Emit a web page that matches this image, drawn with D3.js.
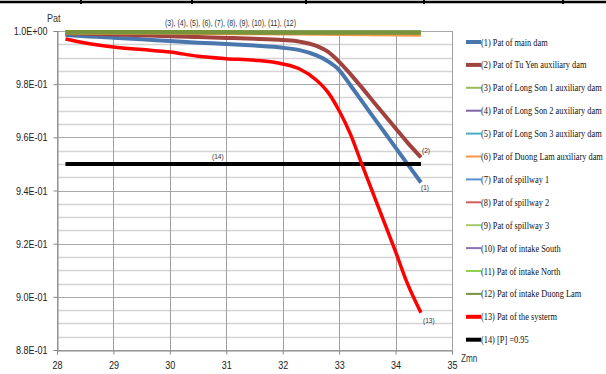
<!DOCTYPE html>
<html><head><meta charset="utf-8">
<script src="https://cdn.jsdelivr.net/npm/d3@7"></script>
<style>
html,body{margin:0;padding:0;background:#fff;}
svg{display:block;}
</style></head>
<body>
<svg id="c" width="606" height="374"></svg>
<script>
// ---- data ----
const zmnMain = [28.15, 28.5, 29, 29.5, 30, 30.5, 31, 31.5, 32, 32.3, 32.6, 32.8, 33.0, 33.2, 33.4, 33.6, 33.8, 34.0, 34.2, 34.45];
const patMainDam   = [0.9985, 0.9980, 0.9975, 0.9969, 0.9962, 0.9956, 0.9951, 0.9945, 0.9937, 0.9928, 0.9908, 0.9886, 0.9853, 0.9796, 0.9737, 0.9678, 0.9620, 0.9561, 0.9503, 0.9430];
const patTuYen     = [0.9992, 0.9990, 0.9987, 0.9984, 0.9980, 0.9977, 0.9974, 0.9971, 0.9966, 0.9960, 0.9944, 0.9922, 0.9884, 0.9838, 0.9788, 0.9736, 0.9685, 0.9634, 0.9583, 0.9525];
const patSystem    = [0.9970, 0.9955, 0.9940, 0.9930, 0.9921, 0.9905, 0.9896, 0.9890, 0.9876, 0.9857, 0.9815, 0.9770, 0.9700, 0.9612, 0.9500, 0.9390, 0.9280, 0.9170, 0.9055, 0.8940];
const zmnFlat = [28.15, 29, 30, 31, 32, 33, 34, 34.45];
const patLongSon1  = [0.9996, 0.9996, 0.9996, 0.9996, 0.9995, 0.9995, 0.9994, 0.9994];
const patLongSon2  = [0.9996, 0.9996, 0.9996, 0.9996, 0.9995, 0.9995, 0.9994, 0.9994];
const patLongSon3  = [0.9996, 0.9996, 0.9996, 0.9996, 0.9995, 0.9995, 0.9994, 0.9994];
const patDuongLamAux = [0.9994, 0.9993, 0.9993, 0.9992, 0.9991, 0.9989, 0.9987, 0.9986];
const patSpillway1 = [0.9997, 0.9997, 0.9997, 0.9997, 0.9996, 0.9996, 0.9996, 0.9996];
const patSpillway2 = [0.9997, 0.9997, 0.9997, 0.9997, 0.9996, 0.9996, 0.9996, 0.9996];
const patSpillway3 = [0.9997, 0.9997, 0.9997, 0.9997, 0.9996, 0.9996, 0.9996, 0.9996];
const patIntakeSouth = [0.9996, 0.9996, 0.9996, 0.9996, 0.9996, 0.9995, 0.9995, 0.9995];
const patIntakeNorth = [0.9996, 0.9996, 0.9996, 0.9996, 0.9996, 0.9995, 0.9995, 0.9995];
const patIntakeDuongLam = [0.9995, 0.9995, 0.9995, 0.9995, 0.9994, 0.9994, 0.9994, 0.9994];
const zmnLimit = [28.15, 34.45];
const pLimit = [0.95, 0.95];

const seriesNames = [
  "(1) Pat of main dam", "(2) Pat of Tu Yen auxiliary dam", "(3) Pat of Long Son 1 auxiliary dam",
  "(4) Pat of Long Son 2 auxiliary dam", "(5) Pat of Long Son 3 auxiliary dam", "(6) Pat of Duong Lam auxiliary dam",
  "(7) Pat of spillway 1", "(8) Pat of spillway 2", "(9) Pat of spillway 3", "(10) Pat of intake South",
  "(11) Pat of intake North", "(12) Pat of intake Duong Lam", "(13) Pat of the systerm", "(14) [P] =0.95"
];
const xTicks = [28, 29, 30, 31, 32, 33, 34, 35];
const yTicks = [0.88, 0.90, 0.92, 0.94, 0.96, 0.98, 1.00];
const yTickLabels = ["8.8E-01", "9.0E-01", "9.2E-01", "9.4E-01", "9.6E-01", "9.8E-01", "1.0E+00"];

// ---- styles ----
const colors = ["#4A76AE", "#A0433F", "#9BBB59", "#8064A2", "#4BACC6", "#F79646",
  "#5B8FD0", "#D0605C", "#A6C96A", "#8E72B3", "#92D050", "#77933C", "#FF0000", "#000000"];
const widths = [4, 4, 2.5, 2.5, 2.5, 4, 2.5, 2.5, 2.5, 2.5, 2.5, 4.5, 3.5, 4];

const series = [
  {x: zmnMain, y: patMainDam}, {x: zmnMain, y: patTuYen},
  {x: zmnFlat, y: patLongSon1}, {x: zmnFlat, y: patLongSon2}, {x: zmnFlat, y: patLongSon3},
  {x: zmnFlat, y: patDuongLamAux}, {x: zmnFlat, y: patSpillway1}, {x: zmnFlat, y: patSpillway2},
  {x: zmnFlat, y: patSpillway3}, {x: zmnFlat, y: patIntakeSouth}, {x: zmnFlat, y: patIntakeNorth},
  {x: zmnFlat, y: patIntakeDuongLam}, {x: zmnMain, y: patSystem}, {x: zmnLimit, y: pLimit}
];

const svg = d3.select("#c");
const L = 57, R = 452, T = 31, B = 350;
const x = d3.scaleLinear().domain([28, 35]).range([L, R]);
const y = d3.scaleLinear().domain([0.88, 1.0]).range([B, T]);
const sans = "'Liberation Sans',Arial,sans-serif";
const K = 0.82; // horizontal condensation of sans text

function condense(sel, k) {
  sel.each(function () {
    const t = d3.select(this);
    const px = +t.attr("x") || 0, py = +t.attr("y") || 0;
    const prev = t.attr("transform") || "";
    t.attr("x", 0).attr("y", 0).attr("transform", `${prev} translate(${px},${py}) scale(${k},1)`);
  });
}

// top table border
svg.append("line").attr("x1", 0).attr("x2", 606).attr("y1", 2).attr("y2", 2)
  .attr("stroke", "#000").attr("stroke-width", 2.5);
[81, 192, 306, 424, 563].forEach(v => svg.append("line").attr("x1", v).attr("x2", v)
  .attr("y1", 0).attr("y2", 4).attr("stroke", "#000").attr("stroke-width", 2));

// grid
const minor = d3.range(0.885, 1.0, 0.005).filter(v => Math.abs(Math.round(v / 0.02) * 0.02 - v) > 1e-6);
const g = svg.append("g");
g.selectAll(".mn").data(minor).enter().append("line")
  .attr("x1", L).attr("x2", R).attr("y1", d => Math.round(y(d)) + 0.5).attr("y2", d => Math.round(y(d)) + 0.5)
  .attr("stroke", "#d4d4d4").attr("stroke-width", 1.5);
g.selectAll(".mj").data(yTicks).enter().append("line")
  .attr("x1", L).attr("x2", R).attr("y1", d => Math.round(y(d)) + 0.5).attr("y2", d => Math.round(y(d)) + 0.5)
  .attr("stroke", "#a8a8a8").attr("stroke-width", 1);
g.selectAll(".vx").data(xTicks).enter().append("line")
  .attr("x1", d => Math.round(x(d)) + 0.5).attr("x2", d => Math.round(x(d)) + 0.5).attr("y1", T).attr("y2", B)
  .attr("stroke", "#a0a0a0").attr("stroke-width", 1);

// axes
const yAxis = d3.axisLeft(y).tickValues(yTicks).tickSize(4).tickPadding(6)
  .tickFormat((d, i) => yTickLabels[i]);
const ya = svg.append("g").attr("transform", `translate(${L + 0.5},0)`).call(yAxis);
const xAxis = d3.axisBottom(x).tickValues(xTicks).tickSize(4).tickPadding(7).tickFormat(d3.format("d"));
const xa = svg.append("g").attr("transform", `translate(0,${B + 0.5})`).call(xAxis);
[ya, xa].forEach(a => {
  a.select(".domain").attr("stroke", "#888");
  a.selectAll(".tick line").attr("stroke", "#888");
  a.selectAll("text").attr("font-family", sans).attr("font-size", 11).attr("fill", "#222");
  condense(a.selectAll("text"), K);
});

// lines
const line = d3.line().curve(d3.curveMonotoneX);
series.forEach((s, i) => {
  if (i === 12) return;
  svg.append("path").datum(s.x.map((v, k) => [x(v), y(s.y[k])]))
    .attr("d", line).attr("fill", "none").attr("stroke", colors[i])
    .attr("stroke-width", widths[i]).attr("stroke-linejoin", "round");
});
svg.append("path").datum(series[12].x.map((v, k) => [x(v), y(series[12].y[k])]))
  .attr("d", line).attr("fill", "none").attr("stroke", colors[12]).attr("stroke-width", widths[12]);

// annotations
const ann = (t, px, py, fs) => {
  const el = svg.append("text").text(t).attr("x", px).attr("y", py)
    .attr("font-family", sans).attr("font-size", fs).attr("fill", "#333");
  condense(el, K);
};
ann("(3), (4), (5), (6), (7), (8), (9), (10), (11), (12)", 165, 26, 8.5);
ann("(14)", 212, y(0.95) - 5, 8);
ann("(2)", x(34.45) + 1, y(patTuYen[19]) - 4, 8);
ann("(1)", x(34.45) + 0, y(patMainDam[19]) + 7, 8);
ann("(13)", x(34.45) + 2, y(patSystem[19]) + 10, 8);
ann("Pat", 47, 22, 11);
ann("Zmn", 461, 362, 10);

// legend
const lg = svg.append("g");
seriesNames.forEach((n, i) => {
  const yy = 42 + 22.9 * i;
  lg.append("line").attr("x1", 466).attr("x2", 481).attr("y1", yy).attr("y2", yy)
    .attr("stroke", colors[i]).attr("stroke-width", [0, 1, 12, 13].includes(i) ? 4 : 2);
  lg.append("text").text(n).attr("transform", `translate(481,${yy + 3.5}) scale(0.835,1)`)
    .attr("font-family", "'Liberation Serif','Times New Roman',serif").attr("font-size", 10).attr("fill", "#111");
});
</script>
</body></html>
